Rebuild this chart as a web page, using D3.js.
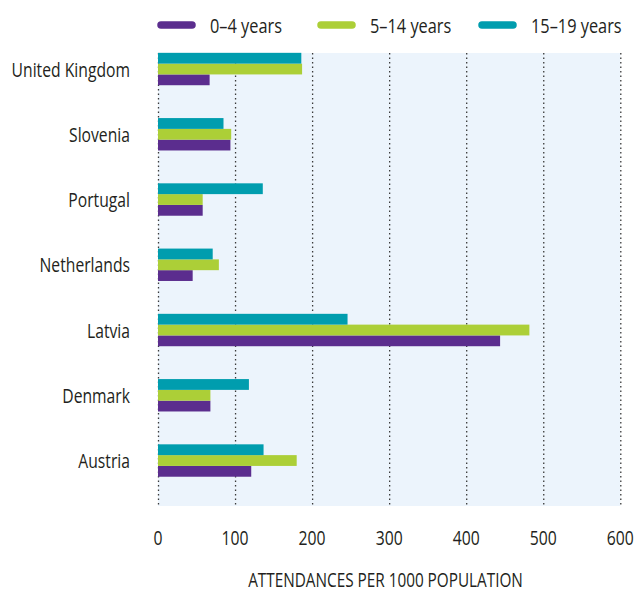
<!DOCTYPE html>
<html><head><meta charset="utf-8">
<script src="https://cdn.jsdelivr.net/npm/d3@7"></script>
<style>
body{margin:0;background:#fff;}
text{font-family:"Open Sans","Noto Sans",sans-serif;fill:#231f20;}
</style></head>
<body><svg id="c" width="637" height="592"></svg>
<script>
const countries = ["United Kingdom","Slovenia","Portugal","Netherlands","Latvia","Denmark","Austria"];
const seriesNames = ["0–4 years","5–14 years","15–19 years"];
const age0to4   = [67, 94, 58, 45, 444, 68, 121];
const age5to14  = [187, 95, 58, 79, 482, 68, 180];
const age15to19 = [186, 85, 136, 71, 246, 118, 137];
const xTicks = [0,100,200,300,400,500,600];
const colors = ["#5b2d8e","#accf37","#009dae"];
const axisTitle = "ATTENDANCES PER 1000 POPULATION";

const series = [age0to4, age5to14, age15to19];
const svg = d3.select("#c");
const x = d3.scaleLinear().domain([0,600]).range([158,620.3]);
const y = d3.scaleBand().domain(countries).range([36.4, 36.4+7*65.25]).paddingInner(0);
const inner = d3.scaleBand().domain([2,1,0]).range([0,32.4]);
const plotTop = 53, plotBottom = 506;

function measure(str, size){
  const t = svg.append("text").attr("font-size",size).text(str);
  const w = t.node().getComputedTextLength(); t.remove(); return w;
}
function condText(g, str, px, py, size, sx, anchor){
  return g.append("text").attr("transform",`translate(${px},${py}) scale(${sx},1)`)
    .attr("text-anchor",anchor).attr("font-size",size).text(str);
}

svg.append("rect").attr("x",x(0)).attr("y",plotTop).attr("width",x(600)-x(0)).attr("height",plotBottom-plotTop).attr("fill","#ecf4fc");

svg.append("g").selectAll("line").data(xTicks).join("line")
  .attr("x1",d=>x(d)+0.5).attr("x2",d=>x(d)+0.5)
  .attr("y1",plotTop).attr("y2",plotBottom)
  .attr("stroke","#3a3a3a").attr("stroke-width",1.3).attr("stroke-dasharray","1.5,3");

const groups = svg.append("g").selectAll("g").data(countries).join("g")
  .attr("transform",d=>`translate(0,${y(d)+y.bandwidth()/2-16.2})`);
groups.selectAll("rect").data((d,i)=>series.map((s,k)=>({k,v:s[i]}))).join("rect")
  .attr("x",x(0)).attr("y",d=>inner(d.k)).attr("width",d=>x(d.v)-x(0)).attr("height",inner.bandwidth())
  .attr("fill",d=>colors[d.k]);

const FS = 20;
const sxLab = 118.5/measure("United Kingdom",FS);
const gl = svg.append("g");
countries.forEach(c=>condText(gl,c,130,y(c)+y.bandwidth()/2+7.5,FS,sxLab,"end"));

const sxTick = 27/measure("100",FS);
const gt = svg.append("g");
xTicks.forEach(t=>condText(gt,String(t),x(t),545,FS,sxTick,"middle"));

const sxTitle = 275/measure(axisTitle,FS);
condText(svg,axisTitle,385.5,587,FS,sxTitle,"middle");

const legLine = [157,317,478];
const sxLeg = 72/measure(seriesNames[0],FS);
const gLeg = svg.append("g");
seriesNames.forEach((s,i)=>{
  gLeg.append("line").attr("x1",legLine[i]+4).attr("x2",legLine[i]+35).attr("y1",25).attr("y2",25)
    .attr("stroke",colors[i]).attr("stroke-width",7.5).attr("stroke-linecap","round");
  condText(gLeg,s,legLine[i]+53,32.5,FS,sxLeg,"start");
});
</script></body></html>
